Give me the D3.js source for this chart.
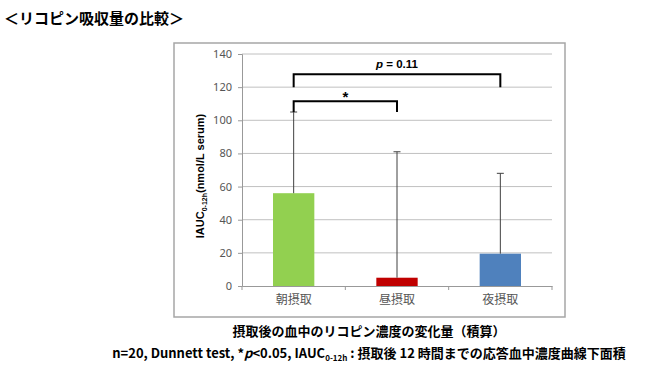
<!DOCTYPE html>
<html>
<head>
<meta charset="utf-8">
<script src="https://cdn.jsdelivr.net/npm/d3@7"></script>
<style>
  body { margin: 0; background: #fff; }
  svg { display: block; font-family: "Noto Sans CJK JP", "Noto Sans", sans-serif; }
</style>
</head>
<body>
<div id="chart"></div>
<script>
const categories = ["朝摂取", "昼摂取", "夜摂取"];
const means = [56, 5, 19.5];
const errTop = [105, 81, 68];
const colors = ["#92d050", "#c00000", "#4f81bd"];
const yTicks = [0, 20, 40, 60, 80, 100, 120, 140];
// brackets: from category, to category, top level, end level at each side, label
const brackets = [
  { from: 0, to: 1, top: 111.5, left: 105, right: 105, label: "*" },
  { from: 0, to: 2, top: 127.8, left: 120, right: 120, label: "p = 0.11" }
];

const width = 650, height = 374;
const svg = d3.select("#chart").append("svg")
  .attr("width", width)
  .attr("height", height);

// title
svg.append("text")
  .attr("x", 4).attr("y", 24)
  .style("font-size", "15px").style("font-weight", "bold")
  .text("＜リコピン吸収量の比較＞");

// chart frame
svg.append("rect")
  .attr("x", 174).attr("y", 43)
  .attr("width", 391).attr("height", 274)
  .attr("fill", "none").attr("stroke", "#a6a6a6").attr("stroke-width", 1.5);

const x = d3.scaleBand().domain(categories).range([242, 552]);
const y = d3.scaleLinear().domain([0, 140]).range([286, 54]);

// gridlines
svg.append("g").selectAll("line")
  .data(yTicks.filter(d => d > 0))
  .join("line")
  .attr("x1", 242).attr("x2", 552)
  .attr("y1", d => y(d)).attr("y2", d => y(d))
  .attr("stroke", "#c0c0c0");

// y axis
const yAxis = svg.append("g")
  .attr("transform", "translate(242,0)")
  .call(d3.axisLeft(y).tickValues(yTicks).tickSize(4).tickPadding(6));
yAxis.select(".domain").attr("stroke", "#999");
yAxis.selectAll(".tick line").attr("stroke", "#999");
yAxis.selectAll(".tick text")
  .attr("fill", "#555").style("font-size", "11px")
  .style("font-family", "'Noto Sans', sans-serif");

// x axis
const xAxis = svg.append("g")
  .attr("transform", "translate(0,286)")
  .call(d3.axisBottom(x).tickSize(0).tickPadding(9));
xAxis.select(".domain").attr("stroke", "#999");
xAxis.selectAll(".tick text")
  .attr("fill", "#555").style("font-size", "12px")
  .style("font-family", "'Noto Sans CJK JP', sans-serif");
svg.append("g").selectAll("line")
  .data(d3.range(categories.length + 1))
  .join("line")
  .attr("x1", i => 242 + i * x.step()).attr("x2", i => 242 + i * x.step())
  .attr("y1", 286).attr("y2", 290)
  .attr("stroke", "#999");

// bars
const barW = x.bandwidth() * 0.4;
svg.append("g").selectAll("rect")
  .data(means)
  .join("rect")
  .attr("x", (d, i) => x(categories[i]) + x.bandwidth() / 2 - barW / 2)
  .attr("y", d => y(d))
  .attr("width", barW)
  .attr("height", d => y(0) - y(d))
  .attr("fill", (d, i) => colors[i]);

// error bars
const eb = svg.append("g").attr("stroke", "#404040").attr("stroke-width", 1);
means.forEach((m, i) => {
  const cx = x(categories[i]) + x.bandwidth() / 2;
  eb.append("line").attr("x1", cx).attr("x2", cx).attr("y1", y(m)).attr("y2", y(errTop[i]));
  eb.append("line").attr("x1", cx - 3.5).attr("x2", cx + 3.5).attr("y1", y(errTop[i])).attr("y2", y(errTop[i]));
});

// significance brackets
brackets.forEach(b => {
  const x1 = x(categories[b.from]) + x.bandwidth() / 2;
  const x2 = x(categories[b.to]) + x.bandwidth() / 2;
  svg.append("path")
    .attr("d", `M${x1},${y(b.left)}V${y(b.top)}H${x2}V${y(b.right)}`)
    .attr("fill", "none").attr("stroke", "#000").attr("stroke-width", 2);
  const t = svg.append("text")
    .attr("x", (x1 + x2) / 2)
    .attr("y", y(b.top) - 6)
    .attr("text-anchor", "middle")
    .style("font-size", b.label === "*" ? "15px" : "11.5px")
    .style("font-weight", "bold")
    .style("font-family", "'Liberation Sans', Arial, sans-serif");
  if (b.label === "*") {
    t.attr("dy", 7).text("*");
  } else {
    t.append("tspan").style("font-style", "italic").text("p");
    t.append("tspan").text(" = 0.11");
  }
});

// y axis title
const yt = svg.append("text")
  .attr("transform", "translate(204,176) rotate(-90)")
  .attr("text-anchor", "middle")
  .style("font-size", "11px").style("font-weight", "bold")
  .style("font-family", "'Liberation Sans', Arial, sans-serif");
yt.append("tspan").text("IAUC");
yt.append("tspan").attr("dy", 3).style("font-size", "7px").text("0-12h");
yt.append("tspan").attr("dy", -3).text("(nmol/L serum)");

// captions
svg.append("text")
  .attr("x", 369).attr("y", 336)
  .attr("text-anchor", "middle")
  .style("font-size", "13px").style("font-weight", "bold")
  .text("摂取後の血中のリコピン濃度の変化量（積算）");

const cap = svg.append("text")
  .attr("x", 369).attr("y", 358)
  .attr("text-anchor", "middle")
  .style("font-size", "13px").style("font-weight", "bold");
cap.append("tspan").text("n=20, Dunnett test, *");
cap.append("tspan").style("font-style", "italic").text("p");
cap.append("tspan").text("<0.05,  IAUC");
cap.append("tspan").attr("dy", 3).style("font-size", "8px").text("0-12h");
cap.append("tspan").attr("dy", -3).text(" : 摂取後 12 時間までの応答血中濃度曲線下面積");
</script>
</body>
</html>
